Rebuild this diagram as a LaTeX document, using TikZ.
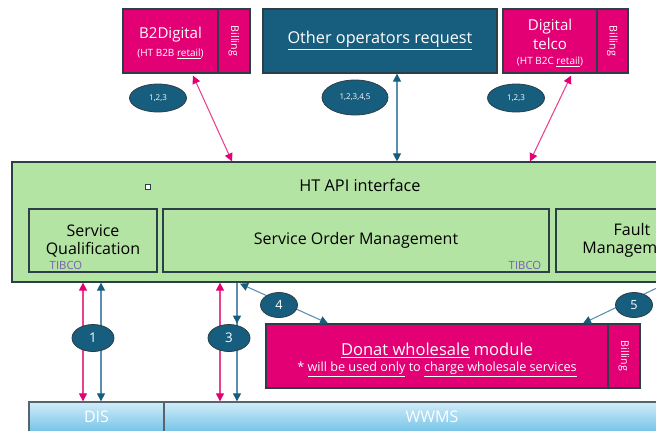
\documentclass[tikz,border=0pt]{standalone}
\usepackage{fontspec}
\setmainfont{Open Sans}
\usetikzlibrary{arrows.meta,shapes.geometric,calc}
\definecolor{tmagenta}{HTML}{E20074}
\definecolor{petrol}{HTML}{175D7E}
\definecolor{apigreen}{HTML}{B4E4A3}
\definecolor{frame}{HTML}{2C3E46}
\definecolor{tibco}{HTML}{7B5DB6}
\definecolor{linkpink}{HTML}{E8418F}
\definecolor{linkblue}{HTML}{5B8FAF}
\definecolor{skyA}{HTML}{D2ECF8}
\definecolor{skyB}{HTML}{74C3E8}

\begin{document}
\begin{tikzpicture}[x=0.75pt,y=-0.75pt,
  every node/.style={inner sep=0pt, align=center},
  block/.style={draw=frame, line width=0.9pt, rectangle},
  pinkbox/.style={block, fill=tmagenta, text=white},
  bill/.style={pinkbox, rotate=-90, minimum width=48pt, minimum height=24pt, font=\fontsize{8}{9}\selectfont},
  module/.style={block, minimum height=47.25pt, font=\fontsize{12}{13.5}\selectfont},
  store/.style={draw=frame!80, line width=1pt, top color=skyA, bottom color=skyB, minimum height=22.5pt, text=white, font=\fontsize{12}{13}\selectfont},
  tag/.style={ellipse, fill=petrol, draw=frame, line width=0.6pt, text=white},
  tibco/.style={text=tibco, font=\fontsize{8.5}{9}\selectfont},
  pinkdbl/.style={linkpink, line width=0.8pt, {Triangle[length=6pt,width=6pt,color=tmagenta]}-{Triangle[length=6pt,width=6pt,color=tmagenta]}},
  bluedbl/.style={linkblue, line width=0.8pt, {Triangle[length=6pt,width=6pt,color=petrol]}-{Triangle[length=6pt,width=6pt,color=petrol]}},
  bluearr/.style={linkblue, line width=0.8pt, -{Triangle[length=6pt,width=6pt,color=petrol]}},
]
\useasboundingbox (0,0) rectangle (656,430);

\node[pinkbox, minimum width=71.25pt, minimum height=48pt] (b2d) at (170.5,41) {};
\node[text=white, font=\fontsize{11.3}{13}\selectfont] (b2dtext) at (170.5,43) {B2Digital\\{\fontsize{7.5}{9}\selectfont(HT B2B \underline{retail})}};
\node[bill] (b2dbill) at (234,41) {Billing};
\node[block, fill=petrol, text=white, minimum width=175.5pt, minimum height=48pt, font=\fontsize{12.2}{14}\selectfont] (ops) at (380,41) {\underline{Other operators request}};
\node[pinkbox, minimum width=70.5pt, minimum height=48pt] (dt) at (550,41) {};
\node[text=white, font=\fontsize{11.3}{14.25}\selectfont] (dttext) at (550,43) {Digital\\telco\\[-3pt]{\fontsize{7.5}{9}\selectfont(HT B2C \underline{retail})}};
\node[bill, minimum height=23.25pt] (dtbill) at (612.5,41) {Billing};

\node[block, fill=apigreen, minimum width=516pt, minimum height=90pt] (api) at (356,222) {};
\node[font=\fontsize{12.2}{14}\selectfont] (apititle) at (360,185) {HT API interface};
\node[draw=frame, fill=white, line width=0.5pt, minimum size=4pt] (mark) at (148,187) {};
\node[module, minimum width=96pt] (sq) at (93,240.5) {Service\\Qualification};
\node[module, minimum width=289.5pt] (som) at (356,240.5) {Service Order Management};
\node[module, minimum width=114pt] (fault) at (632,240.5) {Fault\\Management};
\node[tibco] (sqtibco) at (66,265) {TIBCO};
\node[tibco] (somtibco) at (525,265) {TIBCO};

\node[pinkbox, minimum width=256.5pt, minimum height=48pt] (donat) at (437,356) {};
\node[text=white] (donattext) at (437,360) {{\fontsize{12.4}{14}\selectfont\underline{Donat wholesale} module}\\[0pt]{\fontsize{9.5}{11}\selectfont * \underline{will be used only} to \underline{charge wholesale services}}};
\node[bill] (donatbill) at (624,356) {Billing};

\node[store, minimum width=101.25pt] (dis) at (96.5,417) {DIS};
\node[store, minimum width=402pt] (wwms) at (432,417) {WWMS};

\draw[pinkdbl] ($(b2d.south)+(22.5,2)$) -- ($(api.north)+(-124,0)$);
\draw[bluedbl] ($(ops.south)+(17,0)$) -- ($(api.north)+(41,0)$);
\draw[pinkdbl] ($(dt.south)+(21,2)$) -- ($(api.north)+(174,0)$);

\node[tag, minimum width=42.75pt, minimum height=21pt, font=\fontsize{6}{7}\selectfont] (t1) at (158,98) {1,2,3};
\node[tag, minimum width=49.5pt, minimum height=26.25pt, font=\fontsize{6}{7}\selectfont] (t2) at (355,97.5) {1,2,3,4,5};
\node[tag, minimum width=42.75pt, minimum height=21pt, font=\fontsize{6}{7}\selectfont] (t3) at (516,98) {1,2,3};

\draw[pinkdbl] ($(api.south -| 93,0)+(-10,0)$) -- ($(dis.north -| 93,0)+(-10,0)$);
\draw[bluedbl] ($(api.south -| 93,0)+(8,0)$) -- ($(dis.north -| 93,0)+(8,0)$);
\draw[pinkdbl] ($(api.south -| 229,0)+(-9,0)$) -- ($(wwms.north -| 229,0)+(-9,0)$);
\draw[bluearr] ($(api.south -| 229,0)+(8,0)$) -- ($(wwms.north -| 229,0)+(8,0)$);
\draw[bluearr] ($(api.south -| 229,0)+(8,0)$) -- ($(api.south -| 229,0)+(8,41)$);
\draw[bluedbl] ($(api.south)+(-116,1)$) -- ($(donat.north)+(-109,0)$);
\draw[bluedbl] ($(api.south)+(312,0)$) -- ($(donat.north)+(146,0)$);

\node[tag, minimum width=31.5pt, minimum height=20.25pt, font=\fontsize{10}{11}\selectfont] (n1) at (93,338) {1};
\node[tag, minimum width=31.5pt, minimum height=20.25pt, font=\fontsize{10}{11}\selectfont] (n3) at (229,338) {3};
\node[tag, minimum width=27.75pt, minimum height=18.75pt, font=\fontsize{9.5}{11}\selectfont] (n4) at (279,305) {4};
\node[tag, minimum width=27.75pt, minimum height=18.75pt, font=\fontsize{9.5}{11}\selectfont] (n5) at (634,305) {5};
\end{tikzpicture}
\end{document}
